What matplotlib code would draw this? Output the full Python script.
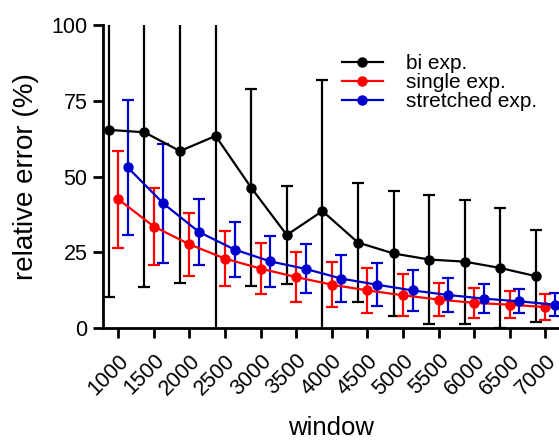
import matplotlib
matplotlib.use("Agg")
import matplotlib.pyplot as plt
from matplotlib.lines import Line2D
import numpy as np

plt.rcParams['font.family'] = ['Liberation Sans', 'DejaVu Sans']

# window sizes and relative errors (%) per fitting model
windows = [1000, 1500, 2000, 2500, 3000, 3500, 4000, 4500, 5000, 5500, 6000, 6500, 7000]
tick_labels = [str(w) for w in windows]

bi_mean = [65.4, 64.6, 58.4, 63.4, 46.3, 30.7, 38.6, 28.2, 24.6, 22.6, 21.9, 19.8, 17.1]
bi_err = [55.2, 51.1, 43.6, 66.0, 32.6, 16.1, 43.1, 19.6, 20.5, 21.4, 20.5, 19.7, 15.1]

single_mean = [42.5, 33.5, 27.6, 22.9, 19.6, 16.8, 14.3, 12.4, 10.8, 9.4, 8.3, 7.7, 6.9]
single_err = [16.0, 12.8, 10.4, 9.2, 8.5, 8.2, 7.5, 7.4, 7.0, 5.6, 5.0, 4.5, 4.3]

stretched_mean = [53.0, 41.1, 31.7, 25.9, 22.0, 19.5, 16.3, 14.3, 12.4, 10.9, 9.7, 8.8, 7.7]
stretched_err = [22.4, 19.6, 11.0, 9.0, 8.5, 8.1, 7.7, 7.1, 6.7, 5.6, 4.7, 4.0, 3.8]

series = [
    ("bi exp.", bi_mean, bi_err, "black", -133),
    ("single exp.", single_mean, single_err, "#ff0000", 0),
    ("stretched exp.", stretched_mean, stretched_err, "#0000cc", 133),
]

fig = plt.figure(figsize=(5.59, 4.42), dpi=100)
ax = fig.add_axes([0.1837, 0.2579, 1.0 - 0.1837, 0.9434 - 0.2579])

x = np.array(windows, dtype=float)
handles = []
for label, mean, err, color, shift in series:
    ax.errorbar(x + shift, mean, yerr=err, color=color, marker='o', markersize=6.5,
                linewidth=1.6, elinewidth=1.6, capsize=4, capthick=1.6)
    handles.append(Line2D([], [], color=color, marker='o', markersize=6.5,
                          linewidth=1.6, label=label))

ax.set_xlim(781, 7190)
ax.set_ylim(0, 100)
ax.set_yticks([0, 25, 50, 75, 100])
ax.set_xticks(windows)
ax.set_xticklabels(tick_labels, rotation=45, ha='right', rotation_mode='anchor')

for side in ('top', 'right'):
    ax.spines[side].set_visible(False)
for side in ('left', 'bottom'):
    ax.spines[side].set_linewidth(2.0)
ax.tick_params(axis='both', width=2.0, length=7, labelsize=15.5)
ax.tick_params(axis='x', pad=9)
ax.tick_params(axis='y', pad=4)

ax.set_xlabel("window", fontsize=18.5, labelpad=12)
ax.set_ylabel("relative error (%)", fontsize=20, labelpad=9)

ax.legend(handles=handles, loc='upper left', bbox_to_anchor=(0.611, 0.877),
          bbox_transform=fig.transFigure, frameon=False, fontsize=15,
          handlelength=2.0, handletextpad=1.1, labelspacing=0.0,
          borderpad=0, borderaxespad=0)

fig.savefig("out.png", dpi=100)
